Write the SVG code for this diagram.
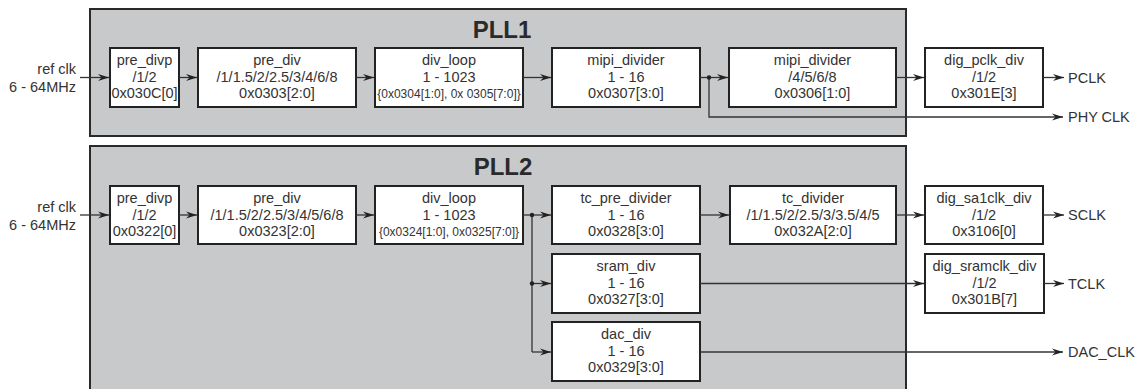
<svg xmlns="http://www.w3.org/2000/svg" width="1141" height="389" viewBox="0 0 1141 389">
<style>
.pll{fill:#c8c9cb;stroke:#2a2a2a;stroke-width:2}
.box{fill:#ffffff;stroke:#222;stroke-width:2}
text{font-family:"Liberation Sans",Arial,sans-serif;fill:#333;font-size:14.5px;text-anchor:middle}
.sm{font-size:12px}
.title{font-size:24px;font-weight:bold;fill:#2a2a2a}
.lbl{text-anchor:start}
.in{text-anchor:end}
.wire{fill:none;stroke:#333;stroke-width:1.3}
.arr{marker-end:url(#ah)}
.dot{fill:#222}
</style>
<defs>
<marker id="ah" markerUnits="userSpaceOnUse" markerWidth="12" markerHeight="8" refX="11" refY="4" orient="auto">
<path d="M0,0.5 L11,4 L0,7.5 L3.5,4 z" fill="#222"/>
</marker>
</defs>
<g id="pll1">
<rect class="pll" x="90" y="9" width="816" height="127"/>
<text class="title" x="502" y="38">PLL1</text>
</g>
<g id="pll2">
<rect class="pll" x="90" y="146" width="816" height="260"/>
<text class="title" x="503" y="175">PLL2</text>
</g>
<g id="refclk1"><text class="in" x="76" y="74">ref clk</text><text class="in" x="76" y="92">6 - 64MHz</text></g>
<g id="refclk2"><text class="in" x="76" y="211.5">ref clk</text><text class="in" x="76" y="229.5">6 - 64MHz</text></g>

<g id="p1_pre_divp"><rect class="box" x="110" y="48" width="69" height="59"/><text x="144.5" y="65">pre_divp</text><text x="144.5" y="81.5">/1/2</text><text x="144.5" y="98">0x030C[0]</text></g>
<g id="p1_pre_div"><rect class="box" x="198" y="48" width="158" height="59"/><text x="277" y="65">pre_div</text><text x="277" y="81.5">/1/1.5/2/2.5/3/4/6/8</text><text x="277" y="98">0x0303[2:0]</text></g>
<g id="p1_div_loop"><rect class="box" x="375" y="48" width="148" height="59"/><text x="449" y="65">div_loop</text><text x="449" y="81.5">1 - 1023</text><text class="sm" x="449" y="97.5">{0x0304[1:0], 0x 0305[7:0]}</text></g>
<g id="p1_mipi_divider1"><rect class="box" x="552" y="48" width="148" height="59"/><text x="626" y="65">mipi_divider</text><text x="626" y="81.5">1 - 16</text><text x="626" y="98">0x0307[3:0]</text></g>
<g id="p1_mipi_divider2"><rect class="box" x="729" y="48" width="167" height="59"/><text x="812.5" y="65">mipi_divider</text><text x="812.5" y="81.5">/4/5/6/8</text><text x="812.5" y="98">0x0306[1:0]</text></g>
<g id="dig_pclk_div"><rect class="box" x="925" y="48" width="118" height="59"/><text x="984" y="65">dig_pclk_div</text><text x="984" y="81.5">/1/2</text><text x="984" y="98">0x301E[3]</text></g>

<g id="p2_pre_divp"><rect class="box" x="110" y="186" width="69" height="58"/><text x="144.5" y="203">pre_divp</text><text x="144.5" y="219.5">/1/2</text><text x="144.5" y="236">0x0322[0]</text></g>
<g id="p2_pre_div"><rect class="box" x="198" y="186" width="158" height="58"/><text x="277" y="203">pre_div</text><text x="277" y="219.5">/1/1.5/2/2.5/3/4/5/6/8</text><text x="277" y="236">0x0323[2:0]</text></g>
<g id="p2_div_loop"><rect class="box" x="375" y="186" width="148" height="58"/><text x="449" y="203">div_loop</text><text x="449" y="219.5">1 - 1023</text><text class="sm" x="449" y="235.5">{0x0324[1:0], 0x0325[7:0]}</text></g>
<g id="tc_pre_divider"><rect class="box" x="552" y="186" width="148" height="58"/><text x="626" y="203">tc_pre_divider</text><text x="626" y="219.5">1 - 16</text><text x="626" y="236">0x0328[3:0]</text></g>
<g id="tc_divider"><rect class="box" x="730" y="186" width="166" height="58"/><text x="813" y="203">tc_divider</text><text x="813" y="219.5">/1/1.5/2/2.5/3/3.5/4/5</text><text x="813" y="236">0x032A[2:0]</text></g>
<g id="dig_sa1clk_div"><rect class="box" x="925" y="186" width="118" height="58"/><text x="984" y="203">dig_sa1clk_div</text><text x="984" y="219.5">/1/2</text><text x="984" y="236">0x3106[0]</text></g>
<g id="sram_div"><rect class="box" x="552" y="254" width="148" height="59"/><text x="626" y="271">sram_div</text><text x="626" y="287.5">1 - 16</text><text x="626" y="304">0x0327[3:0]</text></g>
<g id="dac_div"><rect class="box" x="552" y="322" width="148" height="59"/><text x="626" y="339">dac_div</text><text x="626" y="355.5">1 - 16</text><text x="626" y="372">0x0329[3:0]</text></g>
<g id="dig_sramclk_div"><rect class="box" x="925" y="254" width="119" height="59"/><text x="984.5" y="271">dig_sramclk_div</text><text x="984.5" y="287.5">/1/2</text><text x="984.5" y="304">0x301B[7]</text></g>

<g id="outputs">
<text class="lbl" x="1068" y="82.5">PCLK</text>
<text class="lbl" x="1068" y="122">PHY CLK</text>
<text class="lbl" x="1068" y="220">SCLK</text>
<text class="lbl" x="1068" y="288.5">TCLK</text>
<text class="lbl" x="1068" y="357">DAC_CLK</text>
</g>

<g id="connectors">
<path class="wire arr" d="M80,77.5 H109"/>
<path class="wire arr" d="M179,77.5 H197"/>
<path class="wire arr" d="M356,77.5 H374"/>
<path class="wire arr" d="M523,77.5 H551"/>
<path class="wire arr" d="M700,77.5 H728"/>
<path class="wire arr" d="M896,77.5 H924"/>
<path class="wire arr" d="M1043,77.5 H1064"/>
<path class="wire arr" d="M709,77.5 V117 H1063"/>
<circle class="dot" cx="709" cy="77.5" r="2.2"/>

<path class="wire arr" d="M80,215 H109"/>
<path class="wire arr" d="M179,215 H197"/>
<path class="wire arr" d="M356,215 H374"/>
<path class="wire arr" d="M523,215 H551"/>
<path class="wire arr" d="M700,215 H729"/>
<path class="wire arr" d="M896,215 H924"/>
<path class="wire arr" d="M1043,215 H1064"/>
<path class="wire" d="M532,215 V352"/>
<circle class="dot" cx="532" cy="215" r="2.2"/>
<path class="wire arr" d="M532,283.5 H551"/>
<circle class="dot" cx="532" cy="283.5" r="2.2"/>
<path class="wire arr" d="M532,352 H551"/>
<path class="wire arr" d="M700,283.5 H924"/>
<path class="wire arr" d="M1044,283.5 H1064"/>
<path class="wire arr" d="M700,352 H1063"/>
</g>
</svg>
